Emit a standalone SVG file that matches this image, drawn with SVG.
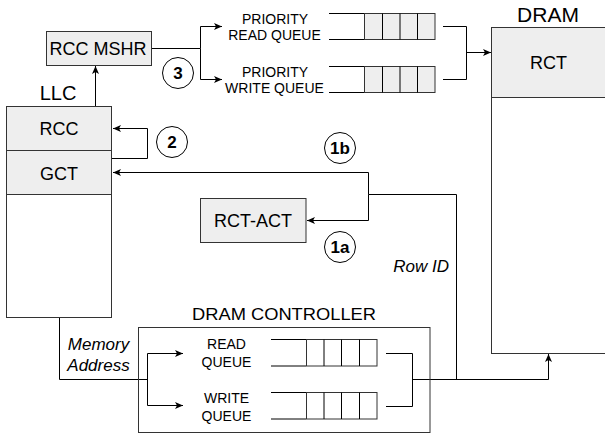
<svg xmlns="http://www.w3.org/2000/svg" width="605" height="437" viewBox="0 0 605 437">
<defs>
<style>
text{font-family:"Liberation Sans",Arial,sans-serif;fill:#000}
.box{stroke:#333;stroke-width:1}
.g{fill:#eeeeee}
.w{fill:#ffffff}
.c{text-anchor:middle}
.t18{font-size:18px}
.t14{font-size:14px}
.it{font-size:17px;font-style:italic}
.num{font-size:17px;font-weight:bold;text-anchor:middle}
.ln{fill:none;stroke:#000;stroke-width:1}
.circ{fill:#fff;stroke:#000;stroke-width:1}
</style>
<marker id="ah" markerWidth="9" markerHeight="8" refX="8" refY="4" orient="auto" markerUnits="userSpaceOnUse">
<path d="M0,0.5 L8,4 L0,7.5 L2,4 Z" fill="#000"/>
</marker>
</defs>

<g id="connectors">
<path class="ln" d="M95.5,106 V66" marker-end="url(#ah)"/>
<path class="ln" d="M112,158.5 H147.5 V128.5 H113" marker-end="url(#ah)"/>
<path class="ln" d="M152,48.5 H200.5 V26.5 H222" marker-end="url(#ah)"/>
<path class="ln" d="M200.5,48.5 V79.5 H222" marker-end="url(#ah)"/>
<path class="ln" d="M443,26.5 H466.5 V79.5 H443"/>
<path class="ln" d="M466.5,52.5 H491" marker-end="url(#ah)"/>
<path class="ln" d="M456.5,379.5 V194.5 H368.5"/>
<path class="ln" d="M368.5,194.5 V172.5 H113" marker-end="url(#ah)"/>
<path class="ln" d="M368.5,194.5 V220.5 H307" marker-end="url(#ah)"/>
<path class="ln" d="M59.5,318 V379.5 H147.5"/>
<path class="ln" d="M147.5,353.5 V405.5"/>
<path class="ln" d="M147.5,353.5 H183" marker-end="url(#ah)"/>
<path class="ln" d="M147.5,405.5 H183" marker-end="url(#ah)"/>
<path class="ln" d="M386,353.5 H412.5 V406.5 H386"/>
<path class="ln" d="M412.5,379.5 H548.5 V354" marker-end="url(#ah)"/>
</g>

<g id="llc">
<rect class="box w" x="6.5" y="106.5" width="105" height="211"/>
<rect class="box g" x="6.5" y="106.5" width="105" height="44"/>
<rect class="box g" x="6.5" y="150.5" width="105" height="44"/>
<text class="c" x="58" y="100" font-size="20">LLC</text>
<text class="c t18" x="59" y="135">RCC</text>
<text class="c t18" x="59" y="180">GCT</text>
</g>

<g id="rcc-mshr">
<rect class="box g" x="46.5" y="31.5" width="105" height="34"/>
<text class="c t18" x="98" y="55">RCC MSHR</text>
</g>

<g id="priority-read-queue">
<path class="ln" d="M329,13.5 H364 M329,39.5 H364"/>
<rect class="box g" x="364.5" y="13.5" width="70.5" height="26"/>
<path class="ln" d="M382.5,13.5 V39.5 M400,13.5 V39.5 M417.5,13.5 V39.5"/>
<text class="c t14" x="275" y="23.5">PRIORITY</text>
<text class="c t14" x="274.5" y="39.5">READ QUEUE</text>
</g>

<g id="priority-write-queue">
<path class="ln" d="M329,66.5 H364 M329,92.5 H364"/>
<rect class="box g" x="364.5" y="66.5" width="70.5" height="26"/>
<path class="ln" d="M382.5,66.5 V92.5 M400,66.5 V92.5 M417.5,66.5 V92.5"/>
<text class="c t14" x="275" y="76.5">PRIORITY</text>
<text class="c t14" x="274.5" y="92.5">WRITE QUEUE</text>
</g>

<g id="dram">
<rect class="box w" x="491.5" y="27.5" width="130" height="326"/>
<rect class="box g" x="491.5" y="27.5" width="130" height="70"/>
<text class="c" x="548" y="21.7" font-size="21">DRAM</text>
<text class="c t18" x="548.5" y="69">RCT</text>
</g>

<g id="rct-act">
<rect class="box g" x="200.5" y="198.5" width="105.5" height="44"/>
<text class="c t18" x="253" y="227">RCT-ACT</text>
</g>

<g id="dram-controller">
<rect class="box" fill="none" x="138.5" y="327.5" width="291.5" height="105"/>
<text class="c" x="284" y="320" font-size="17" textLength="184" lengthAdjust="spacingAndGlyphs">DRAM CONTROLLER</text>
<path class="ln" d="M271,339.5 H306 M271,366 H306"/>
<rect class="box w" x="306.5" y="339.5" width="70.5" height="26.5"/>
<path class="ln" d="M324,339.5 V366 M341.5,339.5 V366 M359.5,339.5 V366"/>
<text class="c t14" x="226.5" y="349">READ</text>
<text class="c t14" x="226.5" y="367">QUEUE</text>
<path class="ln" d="M271,392.5 H306 M271,419 H306"/>
<rect class="box w" x="306.5" y="392.5" width="70.5" height="26.5"/>
<path class="ln" d="M324,392.5 V419 M341.5,392.5 V419 M359.5,392.5 V419"/>
<text class="c t14" x="226.5" y="402.5">WRITE</text>
<text class="c t14" x="226.5" y="420.5">QUEUE</text>
</g>

<g id="labels">
<text class="it c" x="98.5" y="350">Memory</text>
<text class="it c" x="98.5" y="370.5">Address</text>
<text class="it" x="449" y="272" text-anchor="end">Row ID</text>
</g>

<g id="step-2"><circle class="circ" cx="172" cy="142" r="15.5"/><text class="num" x="172" y="148">2</text></g>
<g id="step-3"><circle class="circ" cx="178" cy="73" r="15.5"/><text class="num" x="178" y="79">3</text></g>
<g id="step-1b"><circle class="circ" cx="340" cy="148" r="15.5"/><text class="num" x="340" y="154">1b</text></g>
<g id="step-1a"><circle class="circ" cx="340" cy="247" r="15.5"/><text class="num" x="340" y="253">1a</text></g>
</svg>
